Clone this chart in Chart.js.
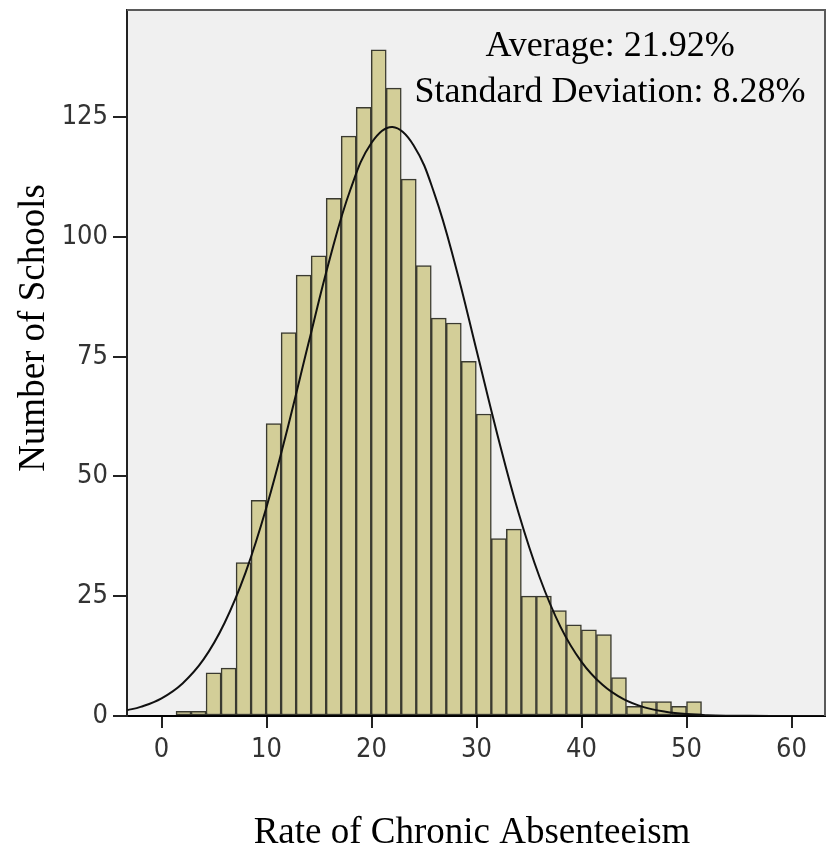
<!DOCTYPE html>
<html>
<head>
<meta charset="utf-8">
<script src="https://cdn.jsdelivr.net/npm/chart.js@4"></script>
<style>
  html, body { margin: 0; padding: 0; background: #fff; }
  #wrap { width: 826px; height: 847px; }
</style>
</head>
<body>
<div id="wrap"><canvas id="histChart" width="826" height="847"></canvas></div>
<script>
// histogram bins (rate of chronic absenteeism, %)
const binStart = 1.38;
const binWidth = 1.43;
const counts = [1, 1, 9, 10, 32, 45, 61, 80, 92, 96, 108, 121, 127, 139, 131, 112, 94, 83, 82, 74,
                63, 37, 39, 25, 25, 22, 19, 18, 17, 8, 2, 3, 3, 2, 3];

// normal curve
const curveX = [-3.3, -2, 0, 2, 4, 6, 8, 10, 12, 14, 16, 18, 20, 22, 24, 26, 28, 30, 32, 34,
                36, 38, 40, 42, 44, 46, 48, 50, 52, 54, 58, 63.2];
const curveY = [1.2, 1.9, 3.7, 6.8, 11.8, 19.4, 29.9, 43.6, 60.0, 77.8, 95.2, 109.9, 119.6, 122.9, 119.1, 108.9, 93.9, 76.3, 58.6, 42.4,
                29.0, 18.6, 11.3, 6.5, 3.5, 1.8, 0.9, 0.4, 0.16, 0.07, 0.01, 0];

const xTicks = [0, 10, 20, 30, 40, 50, 60];
const yTicks = [0, 25, 50, 75, 100, 125];

const avgLabel = 'Average: 21.92%';
const sdLabel = 'Standard Deviation: 8.28%';
const xTitle = 'Rate of Chronic Absenteeism';
const yTitle = 'Number of Schools';

const barData = counts.map((c, i) => ({ x: binStart + binWidth * (i + 0.5), y: c }));
const lineData = curveX.map((x, i) => ({ x: x, y: curveY[i] }));

const tickFont = { family: "'Liberation Sans Narrow', 'DejaVu Sans Condensed', Arial, sans-serif", size: 27 };
const serif = "'Liberation Serif', 'Times New Roman', serif";

const decor = {
    id: 'decor',
    beforeDraw(chart) {
        const { ctx, chartArea: a } = chart;
        ctx.save();
        ctx.fillStyle = '#f0f0f0';
        ctx.fillRect(a.left, a.top, a.right - a.left, a.bottom - a.top);
        ctx.restore();
    },
    afterDraw(chart) {
        const { ctx, chartArea: a } = chart;
        ctx.save();
        // top and right frame
        ctx.strokeStyle = '#5a5a5a';
        ctx.lineWidth = 2;
        ctx.beginPath();
        ctx.moveTo(a.left, a.top);
        ctx.lineTo(a.right, a.top);
        ctx.lineTo(a.right, a.bottom);
        ctx.stroke();

        ctx.fillStyle = '#000';
        ctx.textAlign = 'center';
        ctx.textBaseline = 'alphabetic';
        ctx.font = '36px ' + serif;
        ctx.fillText(avgLabel, 610, 56);
        ctx.fillText(sdLabel, 610, 102);

        ctx.font = '37px ' + serif;
        ctx.fillText(xTitle, 472, 843);

        ctx.translate(44, 328);
        ctx.rotate(-Math.PI / 2);
        ctx.fillText(yTitle, 0, 0);
        ctx.restore();
    }
};

function noPad(s) {
    s.paddingTop = 0;
    s.paddingBottom = 0;
    s.paddingLeft = 0;
    s.paddingRight = 0;
}

window.onload = function() {
    const ctx = document.getElementById('histChart').getContext('2d');
    new Chart(ctx, {
        data: {
            datasets: [{
                type: 'line',
                data: lineData,
                borderColor: '#111',
                borderWidth: 2,
                pointRadius: 0,
                tension: 0.4,
                fill: false,
                order: 1
            }, {
                type: 'bar',
                data: barData,
                backgroundColor: '#d3ce98',
                borderColor: '#3a3a30',
                borderWidth: 1.5,
                borderSkipped: false,
                barPercentage: 1,
                categoryPercentage: 1,
                order: 2
            }]
        },
        options: {
            responsive: false,
            animation: false,
            layout: { padding: { top: 10, right: 1, left: 0, bottom: 0 } },
            plugins: {
                legend: { display: false },
                tooltip: { enabled: false }
            },
            scales: {
                x: {
                    type: 'linear',
                    offset: false,
                    min: -3.29,
                    max: 63.19,
                    afterFit: s => { s.height = 131; noPad(s); },
                    afterBuildTicks: s => { s.ticks = xTicks.map(v => ({ value: v })); },
                    grid: { offset: false, drawOnChartArea: false, drawTicks: true, tickLength: 12, color: '#222', lineWidth: 2 },
                    border: { color: '#000', width: 2 },
                    ticks: { color: '#333', font: tickFont, padding: 6, maxRotation: 0 }
                },
                y: {
                    type: 'linear',
                    min: 0,
                    max: 147.3,
                    afterFit: s => { s.width = 127; noPad(s); },
                    afterBuildTicks: s => { s.ticks = yTicks.map(v => ({ value: v })); },
                    grid: { drawOnChartArea: false, drawTicks: true, tickLength: 14, color: '#222', lineWidth: 2 },
                    border: { color: '#222', width: 2 },
                    ticks: { color: '#333', font: tickFont, padding: 5 }
                }
            }
        },
        plugins: [decor]
    });
};
</script>
</body>
</html>
